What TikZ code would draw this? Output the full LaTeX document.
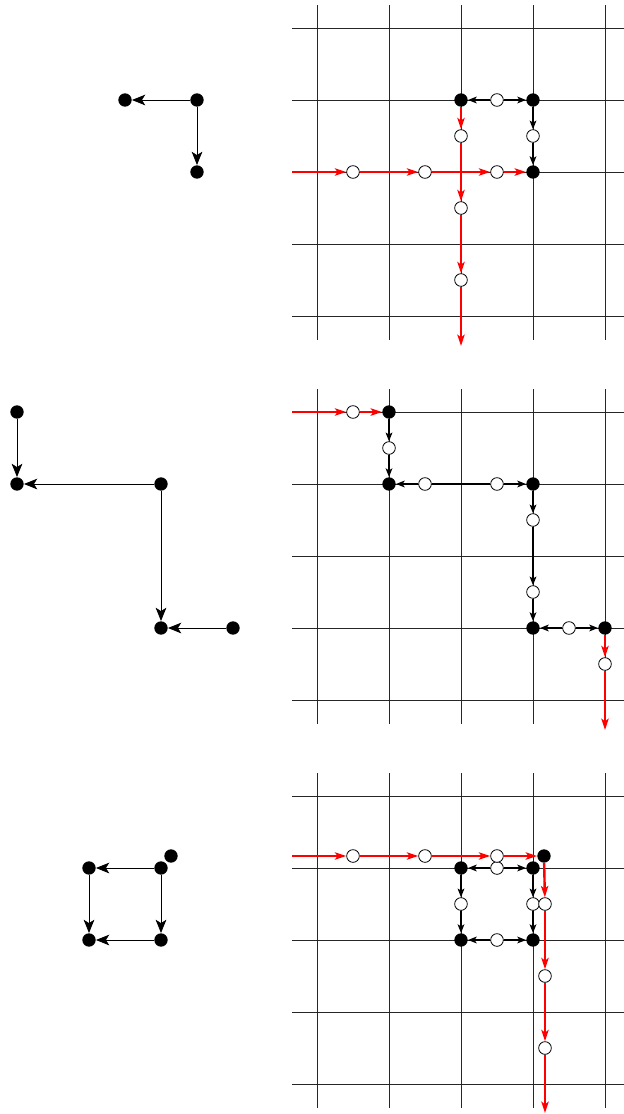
\documentclass[tikz,border=0pt]{standalone}
\usetikzlibrary{arrows.meta}
\begin{document}
\begin{tikzpicture}[x=0.75pt,y=-0.75pt,
  dot/.style={circle,fill=black,inner sep=0pt,minimum size=10pt},
  odot/.style={circle,draw=black,fill=white,line width=0.6pt,inner sep=0pt,minimum size=9.5pt},
  gridline/.style={line width=0.75pt,black!85},
  bedge/.style={line width=1.8pt,-{Stealth[length=6.5pt,width=5pt,inset=1.5pt]}},
  bplain/.style={line width=1.8pt},
  redge/.style={red,line width=1.8pt,-{Stealth[length=8.5pt,width=5.5pt,inset=2pt]}},
  garrow/.style={line width=0.7pt,-{Stealth[length=10pt,width=8pt,inset=2.5pt]}}]
\useasboundingbox (0,0) rectangle (624,1114);
% grids
\foreach \k in {0,1,2}{
  \pgfmathsetmacro{\yo}{28+384*\k}
  \foreach \i in {0,...,4}{
    \draw[gridline] (292,\yo+72*\i) -- (624,\yo+72*\i);
    \draw[gridline] (317+72*\i,\yo-23) -- (317+72*\i,\yo+312);
  }
}
% ================= Panel 1 =================
\node[dot] (g1a) at (197,100) {};
\node[dot] (g1b) at (125,100) {};
\node[dot] (g1c) at (197,172) {};
\draw[garrow] (g1a) -- (g1b);
\draw[garrow] (g1a) -- (g1c);

\node[dot] (a1) at (461,100) {};
\node[dot] (b1) at (533,100) {};
\node[dot] (c1) at (533,172) {};
\node[odot] (m1) at (497,100) {};
\node[odot] (m2) at (533,136) {};
\node[odot] (r1) at (353,172) {};
\node[odot] (r2) at (425,172) {};
\node[odot] (r3) at (497,172) {};
\node[odot] (v1) at (461,136) {};
\node[odot] (v2) at (461,208) {};
\node[odot] (v3) at (461,280) {};
\coordinate (s1) at (292,172);
\coordinate (e1) at (461,346);
\draw[bedge] (m1) -- (a1);
\draw[bedge] (m1) -- (b1);
\draw[bedge] (b1) -- (m2);
\draw[bedge] (m2) -- (c1);
\draw[redge] (s1) -- (r1);
\draw[redge] (r1) -- (r2);
\draw[redge] (r2) -- (r3);
\draw[redge] (r3) -- (c1);
\draw[redge] (a1) -- (v1);
\draw[redge] (v1) -- (v2);
\draw[redge] (v2) -- (v3);
\draw[redge] (v3) -- (e1);

% ================= Panel 2 =================
\node[dot] (g2a) at (17,412) {};
\node[dot] (g2b) at (17,484) {};
\node[dot] (g2c) at (161,484) {};
\node[dot] (g2d) at (161,628) {};
\node[dot] (g2e) at (233,628) {};
\draw[garrow] (g2a) -- (g2b);
\draw[garrow] (g2c) -- (g2b);
\draw[garrow] (g2c) -- (g2d);
\draw[garrow] (g2e) -- (g2d);

\node[dot] (p2a) at (389,412) {};
\node[dot] (p2b) at (389,484) {};
\node[dot] (p2c) at (533,484) {};
\node[dot] (p2d) at (533,628) {};
\node[dot] (p2e) at (605,628) {};
\node[odot] (q1) at (353,412) {};
\node[odot] (q2) at (389,448) {};
\node[odot] (q3) at (425,484) {};
\node[odot] (q4) at (497,484) {};
\node[odot] (q5) at (533,520) {};
\node[odot] (q6) at (533,592) {};
\node[odot] (q7) at (569,628) {};
\node[odot] (q8) at (605,664) {};
\coordinate (s2) at (292,412);
\coordinate (e2) at (605,730);
\draw[redge] (s2) -- (q1);
\draw[redge] (q1) -- (p2a);
\draw[bedge] (p2a) -- (q2);
\draw[bedge] (q2) -- (p2b);
\draw[bedge] (q3) -- (p2b);
\draw[bplain] (q3) -- (q4);
\draw[bedge] (q4) -- (p2c);
\draw[bedge] (p2c) -- (q5);
\draw[bedge] (q5) -- (q6);
\draw[bedge] (q6) -- (p2d);
\draw[bedge] (q7) -- (p2d);
\draw[bedge] (q7) -- (p2e);
\draw[redge] (p2e) -- (q8);
\draw[redge] (q8) -- (e2);

% ================= Panel 3 =================
\node[dot] (g3a) at (89,868) {};
\node[dot] (g3b) at (161,868) {};
\node[dot] (g3c) at (89,940) {};
\node[dot] (g3d) at (161,940) {};
\node[dot] (g3e) at (171,856) {};
\draw[garrow] (g3b) -- (g3a);
\draw[garrow] (g3a) -- (g3c);
\draw[garrow] (g3b) -- (g3d);
\draw[garrow] (g3d) -- (g3c);

\node[dot] (t1) at (461,868) {};
\node[dot] (t2) at (533,868) {};
\node[dot] (t3) at (461,940) {};
\node[dot] (t4) at (533,940) {};
\node[dot] (t5) at (544,856) {};
\node[odot] (u1) at (497,868) {};
\node[odot] (u2) at (461,904) {};
\node[odot] (u3) at (533,904) {};
\node[odot] (u4) at (497,940) {};
\node[odot] (w1) at (353,856) {};
\node[odot] (w2) at (425,856) {};
\node[odot] (w3) at (497,856) {};
\node[odot] (w4) at (545,904) {};
\node[odot] (w5) at (545,976) {};
\node[odot] (w6) at (545,1048) {};
\coordinate (s3) at (292,856);
\coordinate (e3) at (545,1113);
\draw[bedge] (u1) -- (t1);
\draw[bedge] (u1) -- (t2);
\draw[bedge] (t1) -- (u2);
\draw[bedge] (u2) -- (t3);
\draw[bedge] (t2) -- (u3);
\draw[bedge] (u3) -- (t4);
\draw[bedge] (u4) -- (t3);
\draw[bedge] (u4) -- (t4);
\draw[redge] (s3) -- (w1);
\draw[redge] (w1) -- (w2);
\draw[redge] (w2) -- (w3);
\draw[redge] (w3) -- (t5);
\draw[redge] (t5) -- (w4);
\draw[redge] (w4) -- (w5);
\draw[redge] (w5) -- (w6);
\draw[redge] (w6) -- (e3);
\end{tikzpicture}
\end{document}
